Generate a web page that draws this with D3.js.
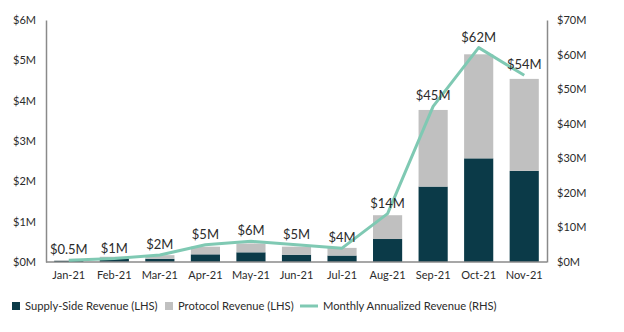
<!DOCTYPE html>
<html>
<head>
<meta charset="utf-8">
<script src="https://cdn.jsdelivr.net/npm/d3@7"></script>
<style>
  body { margin: 0; background: #fff; }
  svg text { font-family: Lato, "Open Sans", sans-serif; }
</style>
</head>
<body>
<div id="chart"></div>
<script>
// data
const months = ['Jan-21','Feb-21','Mar-21','Apr-21','May-21','Jun-21','Jul-21','Aug-21','Sep-21','Oct-21','Nov-21']
const supplySide = [0.03, 0.09, 0.08, 0.19, 0.24, 0.18, 0.16, 0.57, 1.87, 2.57, 2.26]   // $M, LHS
const protocol   = [0.01, 0.04, 0.09, 0.19, 0.22, 0.20, 0.19, 0.59, 1.90, 2.58, 2.28]   // $M, LHS
const annualized = [0.5, 1, 2, 5, 6, 5, 4, 14, 45, 62, 54]                             // $M, RHS
const lineLabels = ['$0.5M','$1M','$2M','$5M','$6M','$5M','$4M','$14M','$45M','$62M','$54M']
const leftTicks  = [0, 1, 2, 3, 4, 5, 6]
const rightTicks = [0, 10, 20, 30, 40, 50, 60, 70]
const legendLabels = ['Supply-Side Revenue (LHS)', 'Protocol Revenue (LHS)', 'Monthly Annualized Revenue (RHS)']

var width = 624, height = 332
var margin = {top: 20, right: 77, bottom: 70, left: 46}

var colDark = '#0b3a48', colGray = '#c0c0c0', colLine = '#7fc9b3', colAxis = '#8a8a8a', colText = '#2b2b2b'

var svg = d3.select('#chart').append('svg')
    .attr('width', width)
    .attr('height', height)

var x = d3.scaleBand()
    .domain(months)
    .range([margin.left, width - margin.right])
    .paddingInner(0.36)
    .paddingOuter(0.18)

var yL = d3.scaleLinear().domain([0, 6]).range([height - margin.bottom, margin.top])
var yR = d3.scaleLinear().domain([0, 70]).range([height - margin.bottom, margin.top])

// stacked bars
var rows = months.map((m, i) => ({month: m, supply: supplySide[i], protocol: protocol[i]}))
var stack = d3.stack().keys(['supply', 'protocol'])(rows)
var colors = {supply: colDark, protocol: colGray}

svg.append('g').selectAll('g')
  .data(stack)
  .enter().append('g')
    .attr('fill', d => colors[d.key])
  .selectAll('rect')
  .data(d => d)
  .enter().append('rect')
    .attr('x', d => x(d.data.month))
    .attr('width', x.bandwidth())
    .attr('y', d => yL(d[1]))
    .attr('height', d => yL(d[0]) - yL(d[1]))

// axes
var axL = svg.append('g')
    .attr('transform', 'translate(' + margin.left + ',0)')
    .call(d3.axisLeft(yL).tickValues(leftTicks).tickSize(0).tickPadding(10).tickFormat(d => '$' + d + 'M'))
var axR = svg.append('g')
    .attr('transform', 'translate(' + (width - margin.right) + ',0)')
    .call(d3.axisRight(yR).tickValues(rightTicks).tickSize(0).tickPadding(10).tickFormat(d => '$' + d + 'M'))
var axB = svg.append('g')
    .attr('transform', 'translate(0,' + (height - margin.bottom) + ')')
    .call(d3.axisBottom(x).tickSize(0).tickPadding(9))

;[axL, axR, axB].forEach(a => {
  a.select('.domain').attr('stroke', colAxis).attr('stroke-width', 1.5)
  a.selectAll('text').attr('fill', colText).attr('font-size', '11px')
})
axB.select('.domain').attr('d', 'M' + margin.left + ',0H' + (width - margin.right))

// annualized revenue line
var line = d3.line()
    .x((d, i) => x(months[i]) + x.bandwidth() / 2)
    .y(d => yR(d))

svg.append('path')
    .datum(annualized)
    .attr('fill', 'none')
    .attr('stroke', colLine)
    .attr('stroke-width', 3)
    .attr('stroke-linejoin', 'round')
    .attr('d', line)

// value labels
svg.append('g').selectAll('text')
  .data(annualized)
  .enter().append('text')
    .attr('x', (d, i) => x(months[i]) + x.bandwidth() / 2)
    .attr('y', d => yR(d) - 6)
    .attr('text-anchor', 'middle')
    .attr('font-size', '13px')
    .attr('fill', colText)
    .text((d, i) => lineLabels[i])

// legend
var lg = svg.append('g').attr('transform', 'translate(0,306)')
var lgX = [12, 165, 300]
lgX.forEach((lx, i) => {
  var g = lg.append('g').attr('transform', 'translate(' + lx + ',0)')
  if (i < 2) {
    g.append('rect').attr('x', 0).attr('y', -4).attr('width', 8).attr('height', 8)
      .attr('fill', i == 0 ? colDark : colGray)
  } else {
    g.append('line').attr('x1', 0).attr('x2', 18).attr('y1', 0).attr('y2', 0)
      .attr('stroke', colLine).attr('stroke-width', 3)
  }
  g.append('text')
    .attr('x', i < 2 ? 13 : 23)
    .attr('dy', '0.35em')
    .attr('font-size', '11.2px')
    .attr('fill', colText)
    .text(legendLabels[i])
})
</script>
</body>
</html>
